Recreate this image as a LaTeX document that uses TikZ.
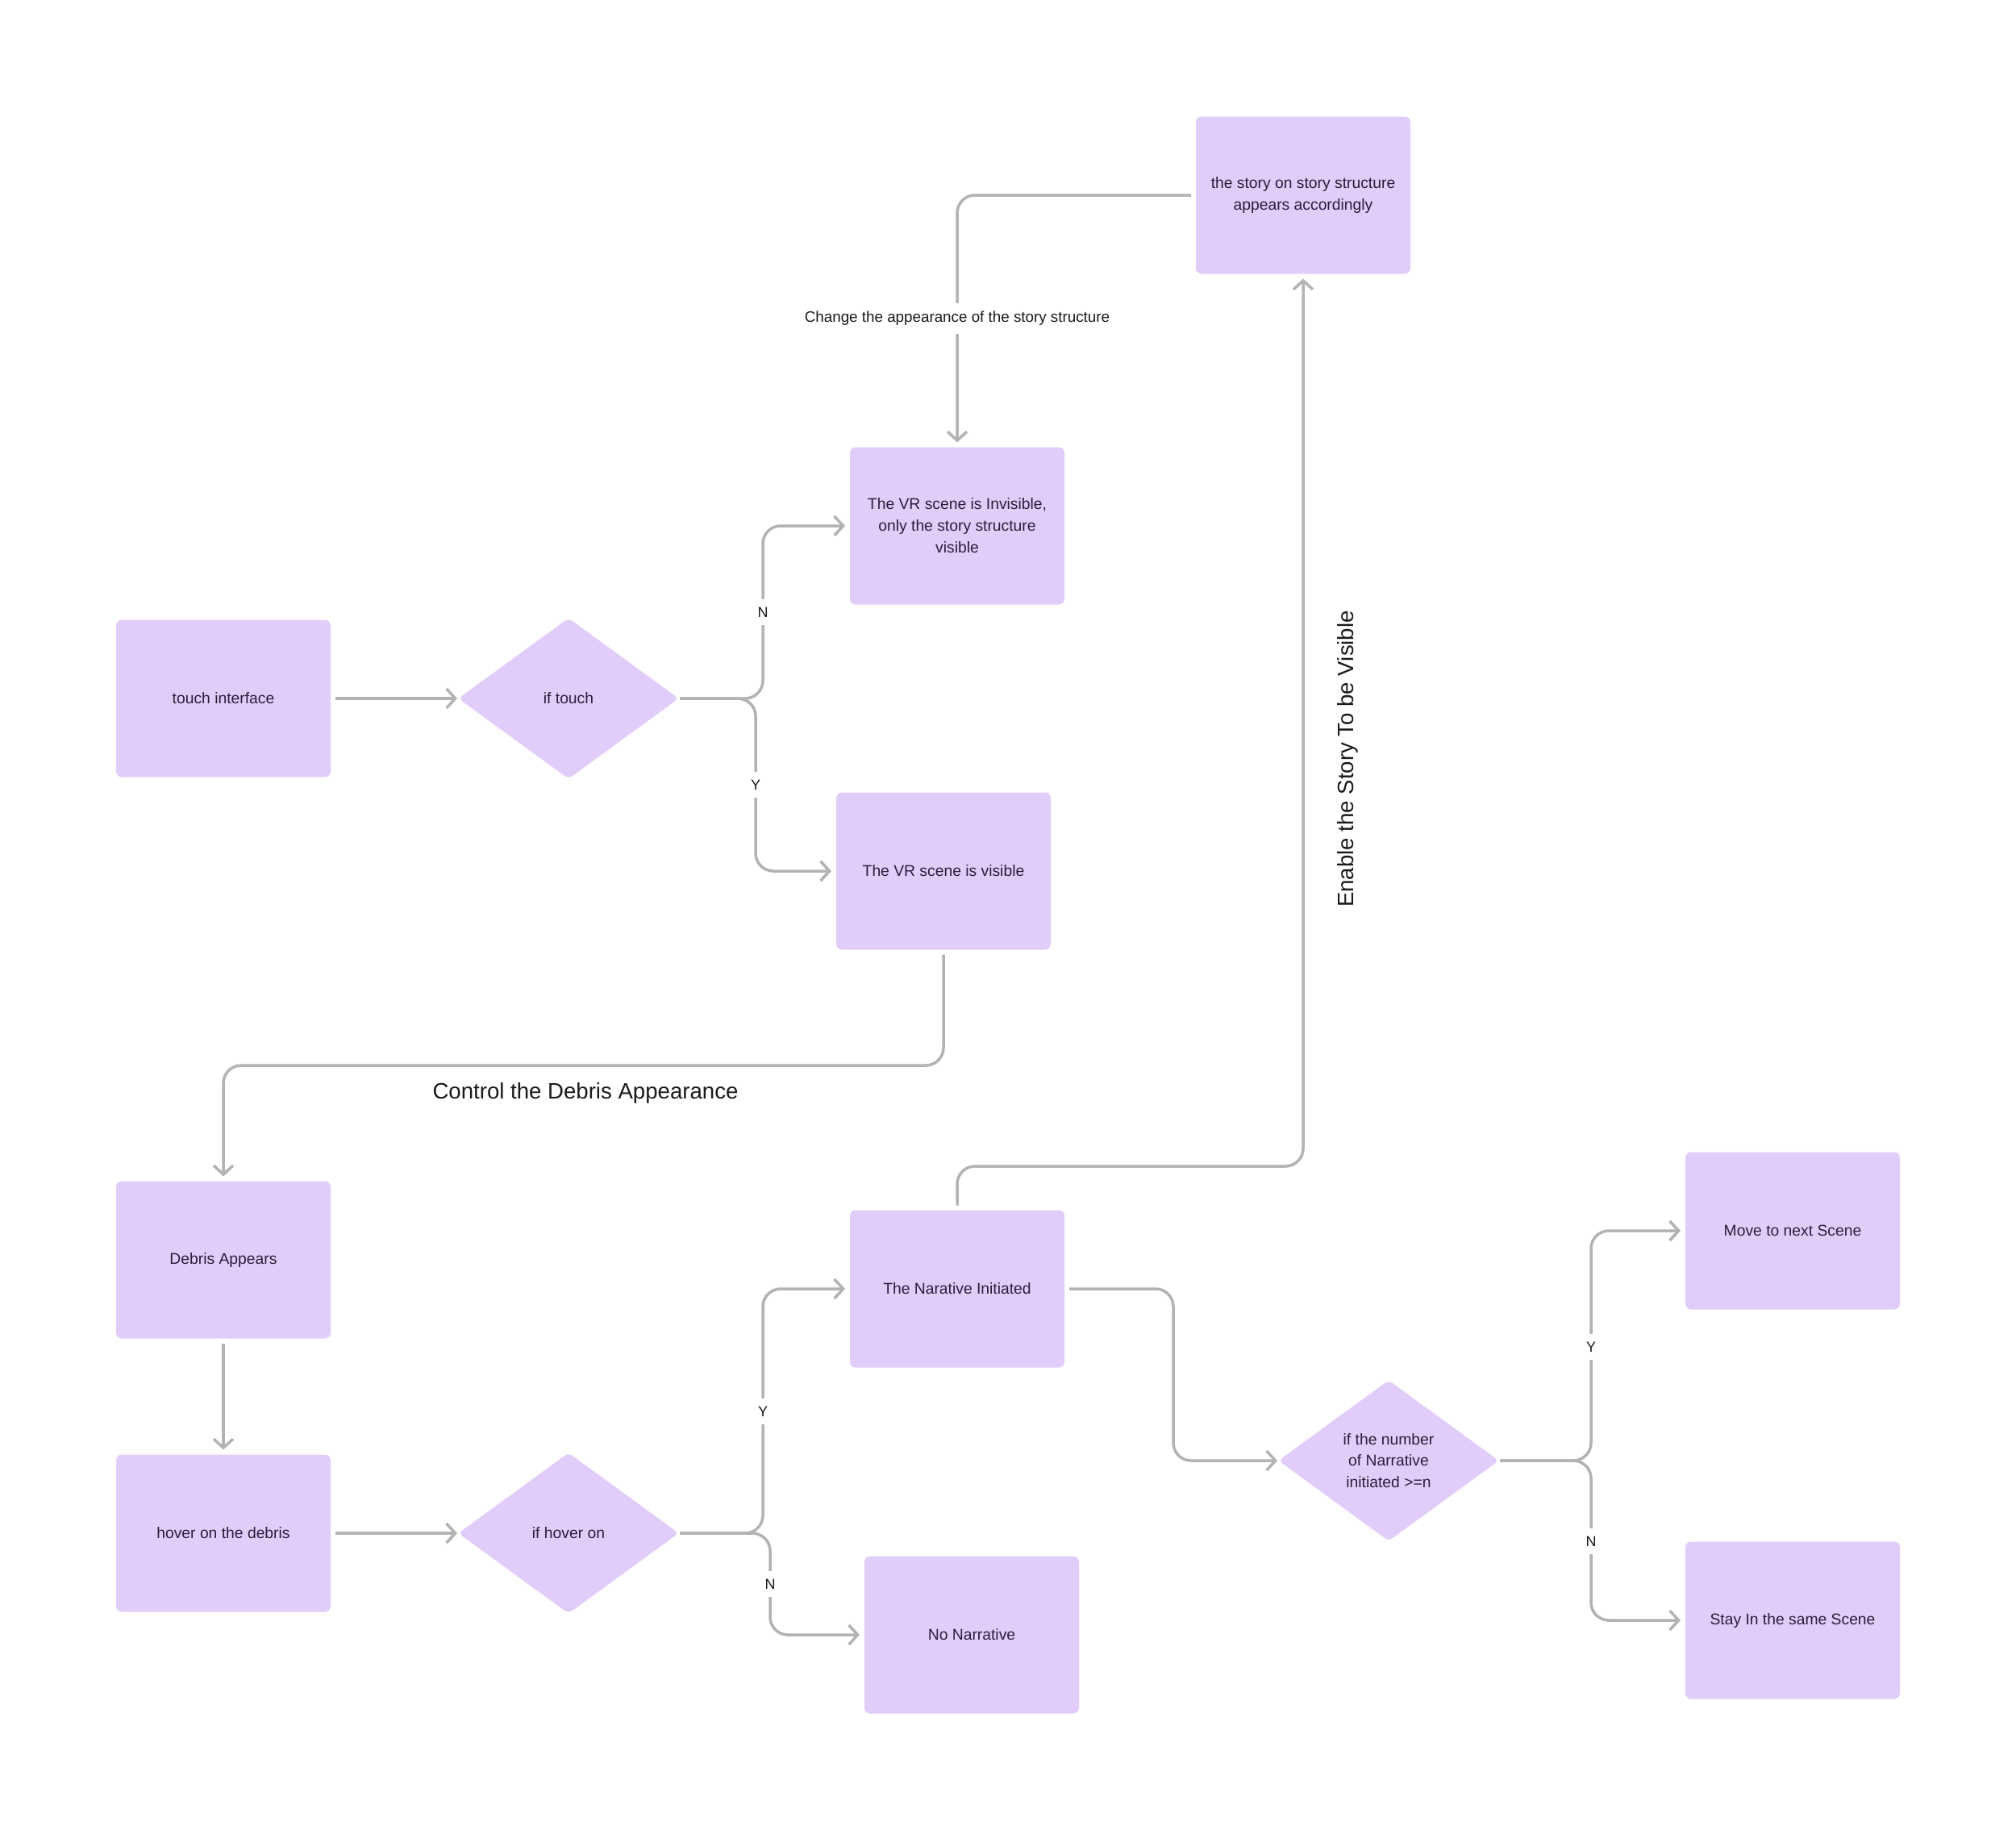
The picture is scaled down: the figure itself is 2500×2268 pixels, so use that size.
\documentclass[tikz,border=0pt]{standalone}
\usepackage{fontspec}
\setmainfont{Liberation Sans}
\usetikzlibrary{arrows.meta,shapes.geometric}
\definecolor{boxfill}{HTML}{E2CCFA}
\definecolor{linec}{HTML}{B3B3B3}
\definecolor{txt}{HTML}{2B1E3A}
\definecolor{labc}{HTML}{1A1A1A}
\tikzset{
  box/.style={rectangle, rounded corners=7pt, fill=boxfill, minimum width=266pt, minimum height=195pt,
    align=center, font=\fontsize{19.3}{27}\selectfont, text=txt, outer sep=6pt},
  dec/.style={diamond, fill=boxfill, minimum width=274pt, minimum height=200pt, rounded corners=6pt,
    align=center, font=\fontsize{19.3}{26.5}\selectfont, text=txt, outer sep=1pt, inner sep=0pt},
  conn/.style={draw=linec, line width=3.5pt, rounded corners=22pt, -{Straight Barb[length=11pt,width=24pt]}},
  lab/.style={fill=white, font=\fontsize{18}{20}\selectfont, text=labc, inner sep=10pt},
  biglab/.style={font=\fontsize{27.6}{32}\selectfont, text=labc, inner sep=0pt},
}
\begin{document}
\begin{tikzpicture}[x=1pt,y=-1pt]
\useasboundingbox (0,0) rectangle (2500,2268);
\fill[white] (0,0) rectangle (2500,2268);
% nodes
\node[box] (story) at (1616,242) {the story on story structure\\appears accordingly};
\node[box] (inv) at (1187,652) {The VR scene is Invisible,\\only the story structure\\visible};
\node[box] (touch) at (277,866) {touch interface};
\node[dec] (ift) at (705,866) {if touch};
\node[box] (vis) at (1170,1080) {The VR scene is visible};
\node[box] (deb) at (277,1562) {Debris Appears};
\node[box] (hov) at (277,1901) {hover on the debris};
\node[dec] (ifh) at (705,1901) {if hover on};
\node[box] (narr) at (1187,1598) {The Narative Initiated};
\node[box] (nonar) at (1205,2027) {No Narrative};
\node[dec] (num) at (1722,1811) {if the number\\of Narrative\\initiated >=n};
\node[box] (next) at (2223,1526) {Move to next Scene};
\node[box] (stay) at (2223,2009) {Stay In the same Scene};
% connectors
\draw[conn] (touch.east) -- (ift.west);
\draw[conn] (ift.east) -| (946,652) -- (inv.west);
\draw[conn] (ift.east) -| (937,1080) -- (vis.west);
\draw[conn] (vis.south) -- (1170,1321) -| (deb.north);
\draw[conn] (deb.south) -- (hov.north);
\draw[conn] (hov.east) -- (ifh.west);
\draw[conn] (ifh.east) -| (946,1598) -- (narr.west);
\draw[conn] (ifh.east) -| (955,2027) -- (nonar.west);
\draw[conn] (narr.east) -| (1455,1811) -- (num.west);
\draw[conn] (num.east) -| (1973,1526) -- (next.west);
\draw[conn] (num.east) -| (1973,2009) -- (stay.west);
\draw[conn] (narr.north) -- (1187,1446) -| (story.south);
\draw[conn] (story.west) -| (inv.north);
% labels
\node[lab] (lN1) at (946,759) {N};
\node[lab] (lY1) at (937,973) {Y};
\node[lab] (lY2) at (946,1750) {Y};
\node[lab] (lN2) at (955,1964) {N};
\node[lab] (lY3) at (1973,1670) {Y};
\node[lab] (lN3) at (1973,1911) {N};
\node[lab, font=\fontsize{18.8}{22}\selectfont] (lchg) at (1187,395) {Change the appearance of the story structure};
\node[biglab] (lctl) at (726,1355) {Control the Debris Appearance};
\node[biglab, rotate=90] (lena) at (1671,941) {Enable the Story To be Visible};
\end{tikzpicture}
\end{document}
